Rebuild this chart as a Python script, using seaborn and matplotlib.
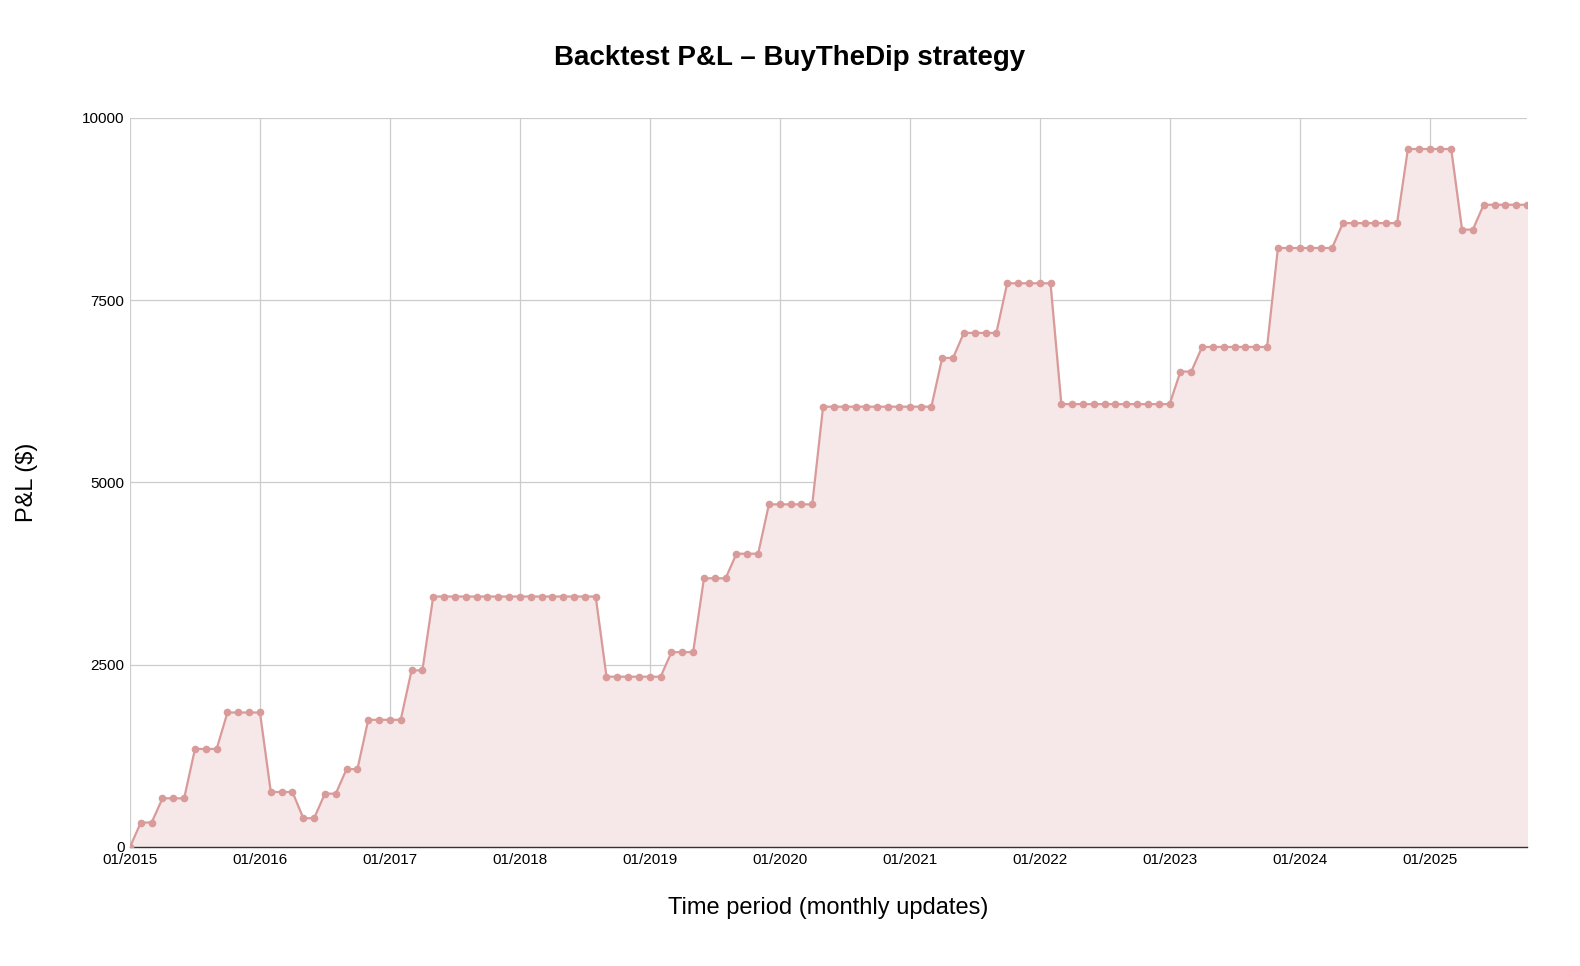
import matplotlib
matplotlib.use("Agg")
import matplotlib.pyplot as plt
import seaborn as sns
import numpy as np
import pandas as pd

# (value, number of consecutive months)
levels = [0, 336, 668, 1345, 1845, 755, 395, 732, 1068, 1745, 2423, 3436, 2336, 2673, 3686,
          4023, 4700, 6040, 6709, 7052, 7733, 6075, 6522, 6860, 8217, 8558, 9575, 8469, 8810]
counts = [1, 2, 3, 3, 4, 3, 2, 2, 2, 4, 2, 16, 6, 3, 3,
          3, 5, 11, 2, 4, 5, 11, 2, 7, 6, 6, 5, 2, 5]
pnl = [v for v, c in zip(levels, counts) for _ in range(c)]
months = list(range(len(pnl)))
tick_labels = [f"01/{y}" for y in range(2015, 2026)]

df = pd.DataFrame({"month": months, "pnl": pnl})

sns.set_theme(style="white")
plt.rcParams['font.family'] = ['Liberation Sans', 'DejaVu Sans']
plt.rcParams['text.color'] = 'black'
plt.rcParams['axes.labelcolor'] = 'black'
fig = plt.figure(figsize=(15.8, 9.66), dpi=100)
ax = fig.add_axes([130/1580, 1-847/966, (1527-130)/1580, (847-118)/966])

col = "#d99a9a"
ax.fill_between(df["month"], df["pnl"], 0, color="#f6e8e8", zorder=1)
sns.lineplot(data=df, x="month", y="pnl", ax=ax, color=col, linewidth=1.6,
             marker="o", markersize=5.5, markeredgewidth=0, zorder=3)

ax.set_xlim(0, len(pnl) - 1)
ax.set_ylim(0, 10000)
ax.set_xticks(range(0, 12 * len(tick_labels), 12))
ax.set_xticklabels(tick_labels)
ax.set_yticks([0, 2500, 5000, 7500, 10000])
ax.set_yticklabels(["0", "2500", "5000", "7500", "10000"])
ax.tick_params(axis="both", labelsize=11, colors="black", length=0, pad=4)
ax.grid(True, color="#cccccc", linewidth=0.9)
ax.set_axisbelow(True)
for s in ["top", "right", "left"]:
    ax.spines[s].set_visible(False)
ax.spines["bottom"].set_color("#333333")
ax.spines["bottom"].set_linewidth(1.0)

ax.set_xlabel("Time period (monthly updates)", fontsize=17, labelpad=22, color="black")
ax.set_ylabel("P&L ($)", fontsize=17, labelpad=32, color="black")
fig.text(0.5, 1 - 58/966, "Backtest P&L – BuyTheDip strategy", ha="center", va="center",
         fontsize=20, fontweight="bold", color="black")

fig.savefig("out.png", dpi=100)
